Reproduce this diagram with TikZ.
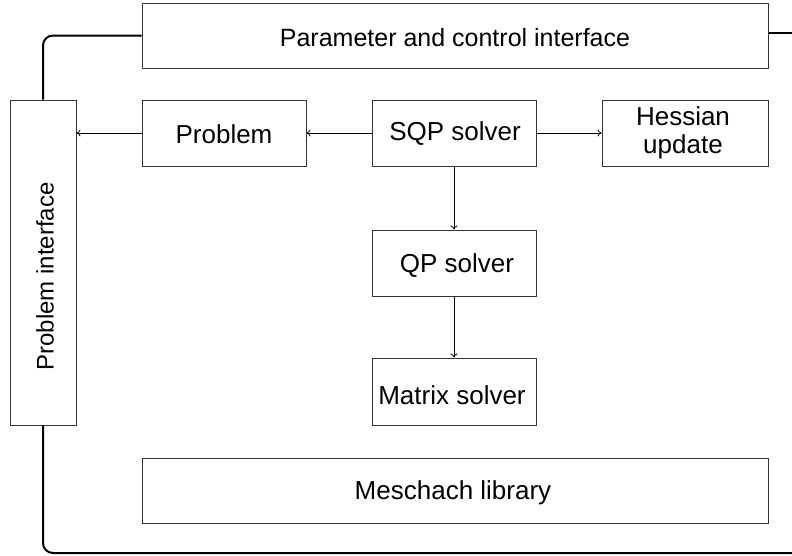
\documentclass[tikz,border=0pt]{standalone}
\usepackage{fontspec}
\setmainfont{Liberation Sans}
\usetikzlibrary{arrows.meta}
\begin{document}
\begin{tikzpicture}[x=1pt,y=-1pt,
  blk/.style={draw=black!80,line width=1pt,minimum height=66pt,inner sep=0pt},
  txt/.style={font=\fontsize{26}{28}\selectfont,align=center,inner sep=0pt},
  arr/.style={line width=0.8pt,-{To[length=4pt,width=7pt]}},
  bus/.style={line width=2pt,rounded corners=10pt}]
\useasboundingbox (0,0) rectangle (792,555);
\begin{scope}
\clip (0,0) rectangle (792,555);
\node[blk,minimum width=626pt,minimum height=65pt] (param) at (455,35.5) {};
\node[txt,font=\fontsize{25}{28}\selectfont] (paramt) at (455,38) {Parameter and control interface};
\node[blk,minimum width=66pt,minimum height=325pt] (pif) at (43,262.5) {};
\node[txt,rotate=90,font=\fontsize{24}{28}\selectfont] (piftext) at (45,276.5) {Problem interface};
\node[blk,minimum width=164pt] (prob) at (224,133) {};
\node[txt] (probt) at (224,134) {Problem};
\node[blk,minimum width=164pt] (sqp) at (454,133) {};
\node[txt] (sqpt) at (455,134) {SQP solver};
\node[blk,minimum width=166pt] (hess) at (685,133) {};
\node[txt] (hesst) at (683,133) {Hessian\\update};
\node[blk,minimum width=164pt] (qp) at (454,263) {};
\node[txt] (qpt) at (457,266) {QP solver};
\node[blk,minimum width=164pt,minimum height=67pt] (mat) at (454,391.5) {};
\node[txt] (matt) at (452,395) {Matrix solver};
\node[blk,minimum width=626pt,minimum height=65pt] (mesch) at (455,490.5) {};
\node[txt] (mescht) at (453,493) {Meschach library};
\coordinate (c1) at (43,35.5);
\coordinate (c2) at (43,553);
\coordinate (c3) at (800,553);
\coordinate (c4) at (800,33);
\draw[bus] (param.west) -- (c1) -- (pif.north);
\draw[bus] (pif.south) -- (c2) -- (c3);
\draw[line width=2pt] (param.east |- c4) -- (c4);
\draw[arr] (sqp) -- (prob);
\draw[arr] (prob) -- (pif.east |- prob.west);
\draw[arr] (sqp) -- (hess);
\draw[arr] (sqp) -- (qp);
\draw[arr] (qp) -- (mat);
\end{scope}
\end{tikzpicture}
\end{document}
